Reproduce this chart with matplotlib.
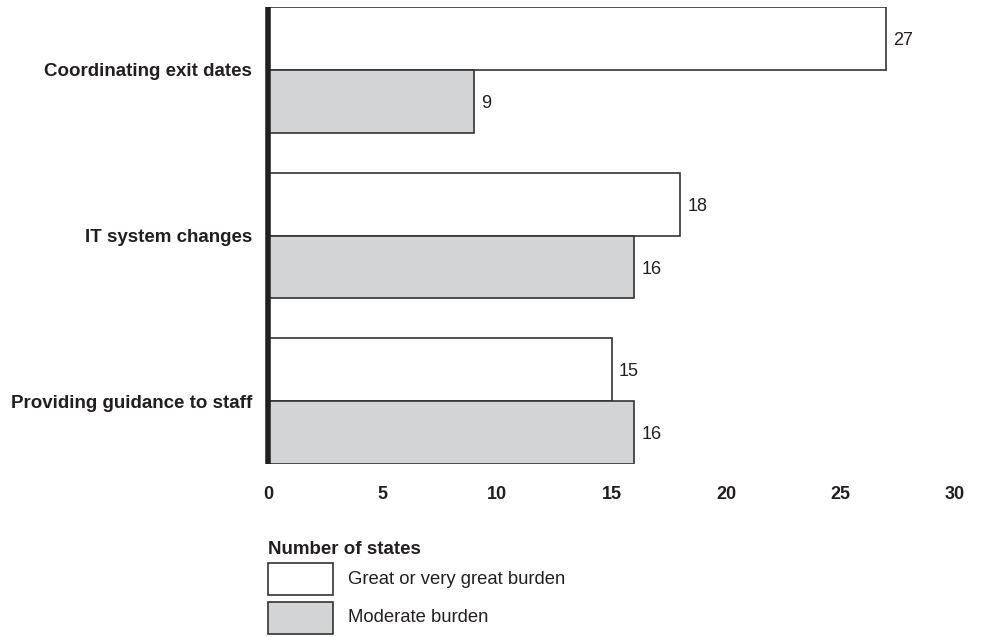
import matplotlib.pyplot as plt
from matplotlib.patches import Rectangle

plt.rcParams['font.family'] = ['Liberation Sans', 'DejaVu Sans']

categories = ["Coordinating exit dates", "IT system changes", "Providing guidance to staff"]
great = [27, 18, 15]
moderate = [9, 16, 16]
series_names = ["Great or very great burden", "Moderate burden"]
xticks = [0, 5, 10, 15, 20, 25, 30]

W, H = 985, 637
fig = plt.figure(figsize=(W / 100, H / 100), dpi=100)
ax = fig.add_axes([268 / W, 1 - 464 / H, (955 - 268) / W, (464 - 7) / H])

edge = '#333333'
grey = '#d3d4d6'
txt = '#231f20'
h = 0.38
ypos = list(range(len(categories)))

ax.barh([y - h / 2 for y in ypos], great, height=h, color='white', edgecolor=edge, linewidth=1.2)
ax.barh([y + h / 2 for y in ypos], moderate, height=h, color=grey, edgecolor=edge, linewidth=1.2)

for y, g, m in zip(ypos, great, moderate):
    ax.annotate(str(g), (g, y - h / 2), xytext=(5, -1.5), textcoords='offset points',
                va='center', ha='left', fontsize=13, color=txt)
    ax.annotate(str(m), (m, y + h / 2), xytext=(5, -1.5), textcoords='offset points',
                va='center', ha='left', fontsize=13, color=txt)

ax.set_xlim(0, 30)
ax.set_ylim(len(categories) - 1 + h, -h)
ax.set_xticks(xticks)
ax.set_xticklabels([str(t) for t in xticks], fontweight='bold', fontsize=13, color=txt)
ax.set_yticks(ypos)
ax.set_yticklabels(categories, fontweight='bold', fontsize=13.5, color=txt)
ax.tick_params(length=0)
ax.tick_params(axis='x', pad=16)
ax.tick_params(axis='y', pad=11.5)
for lbl in ax.get_yticklabels():
    lbl.set_y(lbl.get_position()[1])

for s in ['top', 'right', 'bottom']:
    ax.spines[s].set_visible(False)
ax.spines['left'].set_linewidth(4)
ax.spines['left'].set_color(txt)
ax.spines['left'].set_capstyle('butt')

fig.text(268 / W, 1 - 549 / H, "Number of states", fontweight='bold', fontsize=13.5,
         ha='left', va='center', color=txt)

# legend drawn by hand below the axis title
for i, (name, fc) in enumerate(zip(series_names, ['white', grey])):
    top = 563 + i * 39
    fig.patches.append(Rectangle((268 / W, 1 - (top + 32) / H), 65 / W, 32 / H,
                                 transform=fig.transFigure, facecolor=fc,
                                 edgecolor=edge, linewidth=1.2))
    fig.text(348 / W, 1 - (top + 16) / H, name, fontsize=13.3, ha='left', va='center',
             color=txt)

fig.savefig('out.png', dpi=100)
